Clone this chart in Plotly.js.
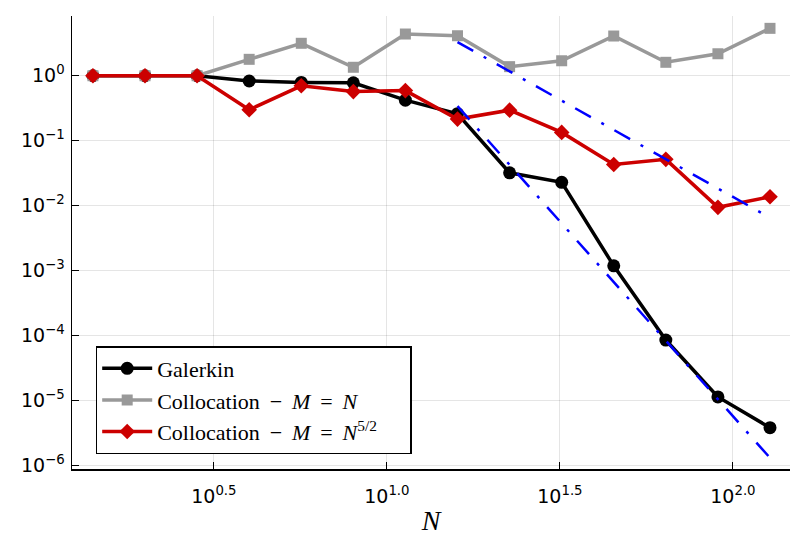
<!DOCTYPE html>
<html>
<head>
<meta charset="utf-8">
<script src="https://cdn.plot.ly/plotly-3.0.1.min.js"></script>
<style>
  html, body { margin: 0; padding: 0; background: #fff; }
  #graph { width: 806px; height: 537px; }
</style>
</head>
<body>
<div id="graph"></div>
<script>
// N = 2^(k/2), k = 1..14
const N = [1.414, 2, 2.828, 4, 5.657, 8, 11.31, 16, 22.63, 32, 45.25, 64, 90.51, 128];

const galerkin  = [1.0, 1.0, 1.0, 0.83, 0.79, 0.78, 0.42, 0.26, 0.032, 0.0228, 0.00118, 8.5e-5, 1.13e-5, 3.8e-6];
const collocN   = [1.0, 1.0, 1.0, 1.79, 3.16, 1.35, 4.39, 4.13, 1.38, 1.70, 4.09, 1.61, 2.18, 5.37];
const collocN52 = [1.0, 1.0, 1.0, 0.30, 0.70, 0.57, 0.59, 0.215, 0.295, 0.134, 0.043, 0.0515, 0.0094, 0.0137];

// reference slopes (blue dash-dot)
const refN     = [16, 128];
const refCubic = [3.3, 0.0065];
const refSixth = [0.34, 1.3e-6];

const sp = ' \u2009';
const pad = '\u00a0\u00a0\u00a0\u00a0\u00a0'; // right padding inside legend box
const names = ['Galerkin',
               'Collocation' + sp + '−' + sp + '<i>M</i>' + sp + '=' + sp + '<i>N</i>',
               'Collocation' + sp + '−' + sp + '<i>M</i>' + sp + '=' + sp + '<i>N</i><sup>5/2</sup>' + pad];

const xTickVals = [3.1623, 10, 31.623, 100];
const xTickText = ['10<sup>0.5</sup>', '10<sup>1.0</sup>', '10<sup>1.5</sup>', '10<sup>2.0</sup>'];
const yTickVals = [1, 0.1, 0.01, 0.001, 1e-4, 1e-5, 1e-6];
const yTickText = ['10<sup>0</sup>', '10<sup>−1</sup>', '10<sup>−2</sup>', '10<sup>−3</sup>',
                   '10<sup>−4</sup>', '10<sup>−5</sup>', '10<sup>−6</sup>'];

const blueDash = '18px,12px,3px,12px';
const serif = 'Liberation Serif, Times New Roman, serif';

const data = [
  {x: N, y: galerkin, name: names[0], mode: 'lines+markers',
   line: {color: '#000000', width: 3.5},
   marker: {symbol: 'circle', size: 13, color: '#000000'}},
  {x: N, y: collocN, name: names[1], mode: 'lines+markers',
   line: {color: '#999999', width: 3.5},
   marker: {symbol: 'square', size: 11, color: '#999999'}},
  {x: N, y: collocN52, name: names[2], mode: 'lines+markers',
   line: {color: '#cc0000', width: 3.5},
   marker: {symbol: 'diamond', size: 12, color: '#cc0000'}},
  {x: refN, y: refCubic, mode: 'lines', showlegend: false, hoverinfo: 'skip',
   line: {color: '#0000ff', width: 2.5, dash: blueDash}},
  {x: refN, y: refSixth, mode: 'lines', showlegend: false, hoverinfo: 'skip',
   line: {color: '#0000ff', width: 2.5, dash: blueDash}}
];

const axisCommon = {
  type: 'log',
  tickmode: 'array',
  showline: true, linecolor: '#000', linewidth: 1.5, mirror: false,
  ticks: 'inside', ticklen: 7, tickwidth: 1, tickcolor: '#000',
  showgrid: true, gridcolor: 'rgba(0,0,0,0.1)', gridwidth: 1,
  zeroline: false,
  tickfont: {family: 'DejaVu Sans', size: 19, color: '#000'}
};

const layout = {
  width: 806, height: 537,
  margin: {l: 72, r: 16, t: 16, b: 68},
  paper_bgcolor: '#fff', plot_bgcolor: '#fff',
  showlegend: true,
  legend: {
    x: 0.033, y: 0.033, xanchor: 'left', yanchor: 'bottom',
    bgcolor: '#fff', bordercolor: '#000', borderwidth: 1.5,
    itemwidth: 50,
    font: {family: serif, size: 22, color: '#000'}
  },
  xaxis: Object.assign({}, axisCommon, {
    range: [0.09, 2.165],
    tickvals: xTickVals, ticktext: xTickText,
    ticklabelstandoff: 10,
    title: {text: '<i>N</i>', font: {family: serif, size: 28, color: '#000'}, standoff: 4}
  }),
  yaxis: Object.assign({}, axisCommon, {
    range: [-6.057, 0.92],
    tickvals: yTickVals, ticktext: yTickText,
    ticklabelstandoff: 2
  })
};

Plotly.newPlot('graph', data, layout, {displayModeBar: false, staticPlot: true});
</script>
</body>
</html>
